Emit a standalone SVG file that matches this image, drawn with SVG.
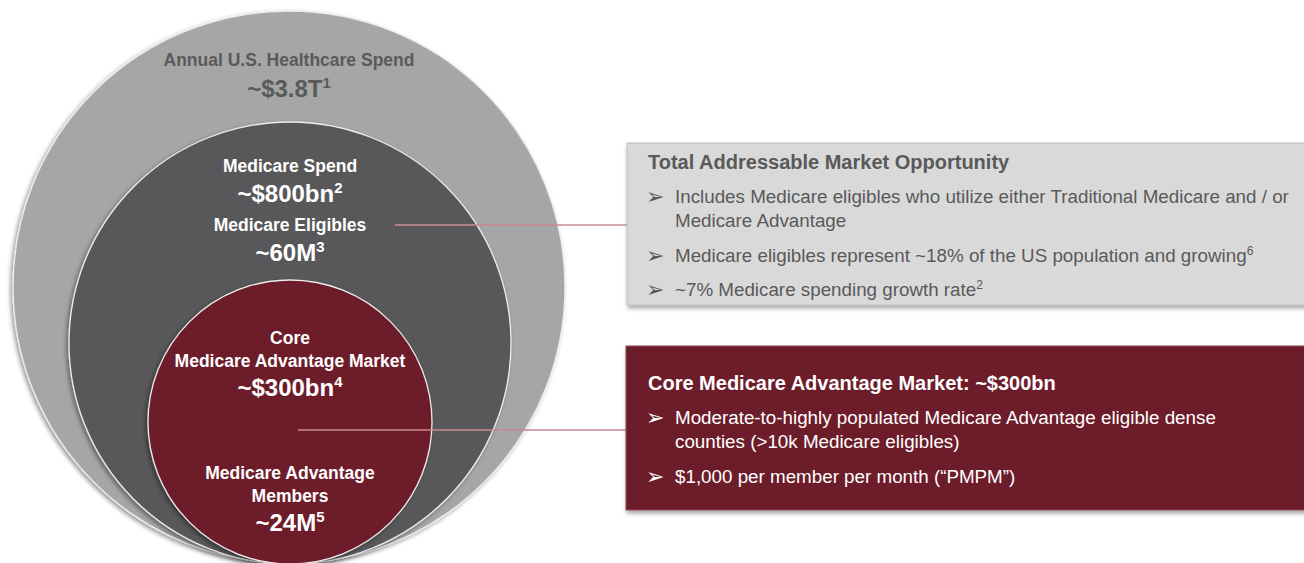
<svg xmlns="http://www.w3.org/2000/svg" width="1304" height="563" viewBox="0 0 1304 563">
<defs>
<filter id="cshadow" x="-10%" y="-10%" width="120%" height="120%">
<feDropShadow dx="-2" dy="2" stdDeviation="2" flood-color="#000" flood-opacity="0.4"/>
</filter>
<filter id="bshadow" x="-5%" y="-10%" width="110%" height="130%">
<feDropShadow dx="1" dy="3" stdDeviation="2" flood-color="#000" flood-opacity="0.35"/>
</filter>
<style>
.circ{stroke:#ececec;stroke-width:1.3;filter:url(#cshadow)}
.lbl{font-family:"Liberation Sans",Arial,sans-serif;font-weight:bold;font-size:17.5px;text-anchor:middle}
.num{font-family:"Liberation Sans",Arial,sans-serif;font-weight:bold;font-size:24px;text-anchor:middle}
.sup{font-size:15px}
.w{fill:#ffffff}
.g{fill:#5a5a5a}
.conn{stroke:#c98a92;stroke-width:1.5;fill:none}
.title{font-family:"Liberation Sans",Arial,sans-serif;font-weight:bold;font-size:20px}
.body{font-family:"Liberation Sans",Arial,sans-serif;font-size:18.8px}
.bsup{font-size:12px}
.bul{font-family:"DejaVu Sans",sans-serif;font-size:22px}
.gt{fill:#595959}
.rt{fill:#ffffff}
</style>
</defs>

<g id="outer-circle">
<circle class="circ" cx="289" cy="287" r="276" fill="#a5a7a6"/>
<text class="lbl g" x="289" y="66">Annual U.S. Healthcare Spend</text>
<text class="num g" x="289" y="97">~$3.8T<tspan class="sup" dy="-9">1</tspan></text>
</g>

<g id="medicare-circle">
<circle class="circ" cx="290" cy="343" r="221" fill="#58585a"/>
<text class="lbl w" x="290" y="172">Medicare Spend</text>
<text class="num w" x="290" y="202">~$800bn<tspan class="sup" dy="-9">2</tspan></text>
<text class="lbl w" x="290" y="231">Medicare Eligibles</text>
<text class="num w" x="290" y="261">~60M<tspan class="sup" dy="-9">3</tspan></text>
</g>

<g id="core-circle">
<circle class="circ" cx="290" cy="422" r="142" fill="#6d1d29"/>
<text class="lbl w" x="290" y="344">Core</text>
<text class="lbl w" x="290" y="367">Medicare Advantage Market</text>
<text class="num w" x="290" y="396">~$300bn<tspan class="sup" dy="-9">4</tspan></text>
<text class="lbl w" x="290" y="479">Medicare Advantage</text>
<text class="lbl w" x="290" y="502">Members</text>
<text class="num w" x="290" y="531">~24M<tspan class="sup" dy="-9">5</tspan></text>
</g>

<g id="connectors">
<line class="conn" x1="395" y1="225" x2="627" y2="225"/>
<line class="conn" x1="298" y1="430" x2="626" y2="430"/>
</g>

<g id="tam-box">
<rect x="627" y="143" width="680" height="162" fill="#d9d9d9" stroke="#bdbdbd" stroke-width="1" filter="url(#bshadow)"/>
<text class="title gt" x="648" y="169">Total Addressable Market Opportunity</text>
<text class="bul gt" x="646" y="204">➢</text>
<text class="body gt" x="675" y="203">Includes Medicare eligibles who utilize either Traditional Medicare and / or</text>
<text class="body gt" x="675" y="227">Medicare Advantage</text>
<text class="bul gt" x="646" y="263">➢</text>
<text class="body gt" x="675" y="262">Medicare eligibles represent ~18% of the US population and growing<tspan class="bsup" dy="-7">6</tspan></text>
<text class="bul gt" x="646" y="297">➢</text>
<text class="body gt" x="675" y="296">~7% Medicare spending growth rate<tspan class="bsup" dy="-7">2</tspan></text>
</g>

<g id="core-box">
<rect x="626" y="346" width="681" height="164" fill="#6d1f2a" stroke="#8a4a52" stroke-width="1" filter="url(#bshadow)"/>
<text class="title rt" x="648" y="390">Core Medicare Advantage Market: ~$300bn</text>
<text class="bul rt" x="646" y="425">➢</text>
<text class="body rt" x="675" y="424">Moderate-to-highly populated Medicare Advantage eligible dense</text>
<text class="body rt" x="675" y="448">counties (&gt;10k Medicare eligibles)</text>
<text class="bul rt" x="646" y="484">➢</text>
<text class="body rt" x="675" y="483">$1,000 per member per month (“PMPM”)</text>
</g>
</svg>
